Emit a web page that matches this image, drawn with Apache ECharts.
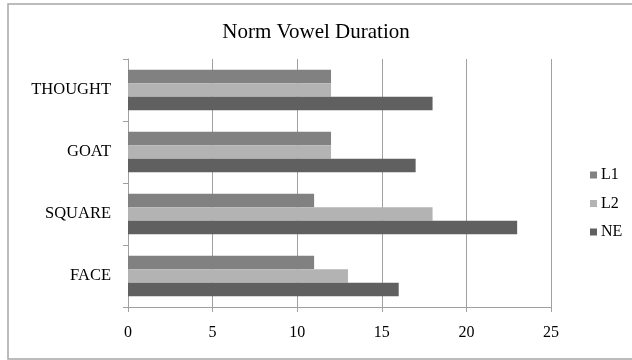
<!DOCTYPE html>
<html>
<head>
<meta charset="utf-8">
<script src="https://cdn.jsdelivr.net/npm/echarts@6/dist/echarts.min.js"></script>
<style>
  html, body { margin: 0; padding: 0; background: #fff; }
  #chart { width: 632px; height: 360px; }
</style>
</head>
<body>
<div id="chart"></div>
<script>
// Vowel categories (bottom to top on the axis)
const categories = ['FACE', 'SQUARE', 'GOAT', 'THOUGHT'];
// Normalised duration per speaker group
const seriesL1 = [11, 11, 12, 12];
const seriesL2 = [13, 18, 12, 12];
const seriesNE = [16, 23, 17, 18];
// Value axis ticks
const xTicks = [0, 5, 10, 15, 20, 25];

const FONT = '"Liberation Serif", "Times New Roman", serif';
const GRID_COLOR = '#a0a0a0';

const chart = echarts.init(document.getElementById('chart'), null, { renderer: 'canvas' });

function bar(name, data, color) {
  return {
    name: name,
    type: 'bar',
    data: data,
    barGap: '0%',
    barCategoryGap: '35%',
    itemStyle: { color: color },
    silent: true
  };
}

chart.setOption({
  animation: false,
  backgroundColor: '#fff',
  title: {
    text: 'Norm Vowel Duration',
    left: 'center',
    top: 17,
    textStyle: { fontFamily: FONT, fontSize: 21, fontWeight: 'normal', color: '#000' }
  },
  graphic: [{
    type: 'rect',
    shape: { x: 8, y: 4, width: 700, height: 355 },
    style: { fill: null, stroke: '#a6a6a6', lineWidth: 1.5 },
    silent: true
  }],
  legend: {
    orient: 'vertical',
    left: 585,
    top: 162,
    itemWidth: 7,
    itemHeight: 7,
    itemGap: 12.5,
    icon: 'rect',
    data: ['L1', 'L2', 'NE'],
    textStyle: { fontFamily: FONT, fontSize: 16, color: '#000', padding: [0, 0, 0, -1] }
  },
  grid: { left: 128, right: 81, top: 59, bottom: 53 },
  xAxis: {
    type: 'value',
    min: xTicks[0],
    max: xTicks[xTicks.length - 1],
    interval: xTicks[1] - xTicks[0],
    axisLine: { show: true, lineStyle: { color: GRID_COLOR } },
    axisTick: { show: true, length: 5, lineStyle: { color: GRID_COLOR } },
    splitLine: { show: true, lineStyle: { color: GRID_COLOR, width: 1 } },
    axisLabel: { fontFamily: FONT, fontSize: 16, color: '#000', margin: 18 }
  },
  yAxis: {
    type: 'category',
    data: categories,
    axisLine: { show: true, lineStyle: { color: GRID_COLOR } },
    axisTick: { show: true, length: 5, lineStyle: { color: GRID_COLOR } },
    axisLabel: { fontFamily: FONT, fontSize: 16.5, color: '#000', margin: 17 }
  },
  series: [
    bar('L1', seriesL1, '#818181'),
    bar('L2', seriesL2, '#b3b3b3'),
    bar('NE', seriesNE, '#606060')
  ]
});
</script>
</body>
</html>
